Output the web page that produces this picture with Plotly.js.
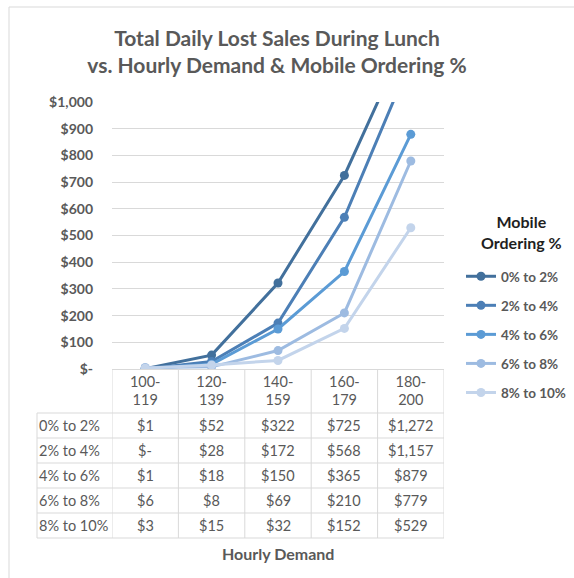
<!DOCTYPE html>
<html>
<head>
<meta charset="utf-8">
<script src="https://cdn.plot.ly/plotly-3.0.1.min.js"></script>
<style>html,body{margin:0;padding:0;background:#fff;}#chart{width:574px;height:578px;}</style>
</head>
<body>
<div id="chart"></div>
<script>
// ---- data ----
const categories = ["100-119", "120-139", "140-159", "160-179", "180-200"];
const categoryLabels = ["100-<br>119", "120-<br>139", "140-<br>159", "160-<br>179", "180-<br>200"];
const seriesNames = ["0% to 2%", "2% to 4%", "4% to 6%", "6% to 8%", "8% to 10%"];
const s0to2 = [1, 52, 322, 725, 1272];
const s2to4 = [0, 28, 172, 568, 1157];
const s4to6 = [1, 18, 150, 365, 879];
const s6to8 = [6, 8, 69, 210, 779];
const s8to10 = [3, 15, 32, 152, 529];
const seriesValues = [s0to2, s2to4, s4to6, s6to8, s8to10];
const yTickVals = [0, 100, 200, 300, 400, 500, 600, 700, 800, 900, 1000];

// ---- styling ----
const colors = ["#42709c", "#4c7fb6", "#5b9bd5", "#9dbbe1", "#c3d4eb"];
const textGray = "#595959";
const gridGray = "#d9d9d9";
const FONT = "Lato, 'Open Sans', sans-serif";

// layout geometry (pixels)
const W = 574, H = 578;
const L = 112, R = 444, T = 102, B = 369;
const px = p => (p - L) / (R - L);       // pixel x -> paper
const py = p => (B - p) / (B - T);       // pixel y -> paper

const fmt = v => v === 0 ? "$-" : "$" + v.toLocaleString("en-US");

const traces = seriesNames.map((name, i) => ({
  type: "scatter",
  mode: "lines+markers",
  name: name,
  legendgroup: "g" + i,
  x: categories,
  y: seriesValues[i],
  line: {color: colors[i], width: 3},
  marker: {color: colors[i], size: 9},
  hoverinfo: "skip"
}));

// table geometry
const headerBottom = 413;
const rowH = 25;
const tableLeft = 37;
const rowLines = [];
for (let r = 0; r <= seriesNames.length; r++) rowLines.push(headerBottom + r * rowH);
const tableBottom = rowLines[rowLines.length - 1];

const shapes = [];
// outer chart border
shapes.push({type: "rect", xref: "paper", yref: "paper",
  x0: px(9), x1: px(590), y0: py(600), y1: py(7),
  line: {color: gridGray, width: 1}, fillcolor: "rgba(0,0,0,0)", layer: "below"});
// vertical column lines
for (let c = 0; c <= categories.length; c++) {
  shapes.push({type: "line", xref: "x", yref: "paper",
    x0: c - 0.5, x1: c - 0.5, y0: py(B), y1: py(tableBottom),
    line: {color: gridGray, width: 1}});
}
// left label column line
shapes.push({type: "line", xref: "paper", yref: "paper",
  x0: px(tableLeft), x1: px(tableLeft), y0: py(headerBottom), y1: py(tableBottom),
  line: {color: gridGray, width: 1}});
// horizontal row lines
rowLines.forEach(p => {
  shapes.push({type: "line", xref: "paper", yref: "paper",
    x0: px(tableLeft), x1: 1, y0: py(p), y1: py(p),
    line: {color: gridGray, width: 1}});
});

const cellFont = {family: FONT, size: 14.5, color: textGray};
const annotations = [];
seriesNames.forEach((name, r) => {
  const yc = py(headerBottom + r * rowH + rowH / 2);
  annotations.push({xref: "paper", yref: "paper", x: px(tableLeft), y: yc,
    xanchor: "left", yanchor: "middle", showarrow: false, text: name,
    font: cellFont});
  seriesValues[r].forEach((v, c) => {
    annotations.push({xref: "x", yref: "paper", x: c, y: yc,
      xanchor: "center", yanchor: "middle", showarrow: false, text: fmt(v),
      font: cellFont});
  });
});
// x-axis title
annotations.push({xref: "paper", yref: "paper", x: 0.5, y: py(553),
  xanchor: "center", yanchor: "middle", showarrow: false, text: "<b>Hourly Demand</b>",
  font: {family: FONT, size: 16, color: textGray}});
// legend heading
annotations.push({xref: "paper", yref: "paper", x: px(521), y: py(232),
  xanchor: "center", yanchor: "middle", showarrow: false, align: "center",
  text: "<b>Mobile<br>Ordering %</b>",
  font: {family: FONT, size: 16, color: "#1f1f1f"}});

const layout = {
  width: W, height: H,
  margin: {l: L, r: W - R, t: T, b: H - B, pad: 0, autoexpand: false},
  paper_bgcolor: "#ffffff",
  plot_bgcolor: "#ffffff",
  font: {family: FONT, color: textGray},
  title: {
    text: "<b>Total Daily Lost Sales During Lunch<br>vs. Hourly Demand & Mobile Ordering %</b>",
    font: {family: FONT, size: 21, color: textGray},
    xref: "container", x: 277 / W, xanchor: "center",
    yref: "container", y: 1 - 46 / H, yanchor: "top"
  },
  xaxis: {
    type: "category",
    tickvals: categories,
    ticktext: categoryLabels,
    range: [-0.5, 4.5],
    showgrid: false,
    showline: false,
    zeroline: false,
    ticks: "",
    tickfont: {family: FONT, size: 14.5, color: textGray},
    ticklabelstandoff: 2,
    fixedrange: true
  },
  yaxis: {
    range: [0, 1000],
    tickvals: yTickVals,
    ticktext: yTickVals.map(fmt),
    showgrid: true,
    gridcolor: gridGray,
    gridwidth: 1,
    zeroline: true,
    zerolinecolor: gridGray,
    zerolinewidth: 1,
    showline: false,
    ticks: "",
    tickfont: {family: FONT, size: 14, color: textGray, weight: "bold"},
    ticklabelstandoff: 18,
    fixedrange: true
  },
  showlegend: true,
  legend: {
    x: px(461), xanchor: "left",
    y: py(261), yanchor: "top",
    bgcolor: "rgba(0,0,0,0)",
    font: {family: FONT, size: 13.5, color: textGray, weight: "bold"},
    tracegroupgap: 8.5,
    itemwidth: 30
  },
  shapes: shapes,
  annotations: annotations
};

Plotly.newPlot("chart", traces, layout, {displayModeBar: false, staticPlot: true});
</script>
</body>
</html>
